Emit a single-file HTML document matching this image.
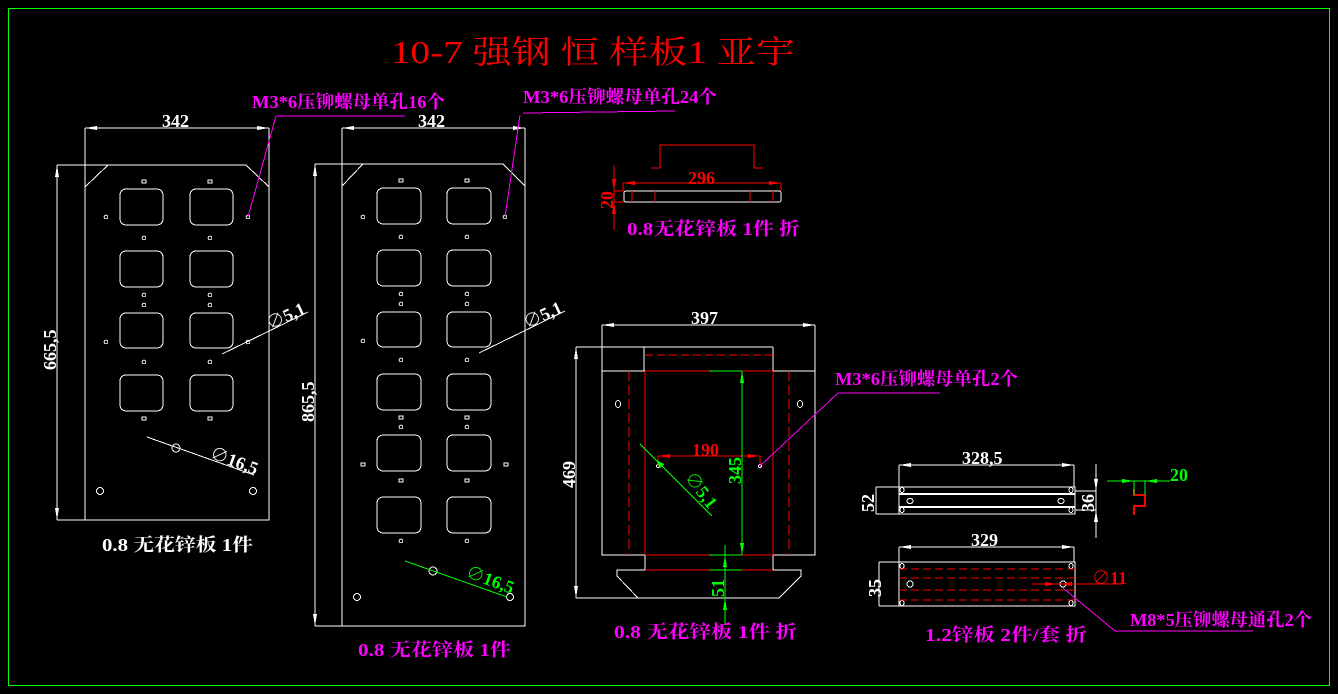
<!DOCTYPE html>
<html><head><meta charset="utf-8"><style>
html,body{margin:0;padding:0;background:#000;}
svg{display:block;}
text{font-family:"Liberation Serif","Noto Serif CJK SC",serif;}
</style></head><body>
<svg width="1338" height="694" viewBox="0 0 1338 694" xmlns="http://www.w3.org/2000/svg" shape-rendering="crispEdges">
<rect x="0" y="0" width="1338" height="694" fill="#000"/>
<rect x="8.5" y="8.5" width="1321" height="677" fill="none" stroke="#00ff00" stroke-width="1"/>
<text x="391" y="63" font-size="32" fill="#ff0000" textLength="404" lengthAdjust="spacingAndGlyphs">10-7 强钢 恒 样板1 亚宇</text>

<g stroke="#fff" fill="none" stroke-width="1">
<!-- Plate 1 -->
<path d="M108,165 L246,165 L269,187 L269,520 L85,520 L85,187 Z"/>
<line x1="57" y1="165" x2="108" y2="165"/>
<line x1="57" y1="520" x2="85" y2="520"/>
<line x1="57" y1="165" x2="57" y2="520"/>
<line x1="85" y1="128" x2="85" y2="187"/>
<line x1="269" y1="128" x2="269" y2="187"/>
<line x1="85" y1="128" x2="269" y2="128"/>
<rect x="120" y="189" width="43" height="36" rx="6"/><rect x="190" y="189" width="43" height="36" rx="6"/>
<rect x="120" y="251" width="43" height="36" rx="6"/><rect x="190" y="251" width="43" height="36" rx="6"/>
<rect x="120" y="313" width="43" height="35" rx="6"/><rect x="190" y="313" width="43" height="35" rx="6"/>
<rect x="120" y="375" width="43" height="36" rx="6"/><rect x="190" y="375" width="43" height="36" rx="6"/>
<rect x="142" y="180" width="4" height="3"/><rect x="208" y="180" width="4" height="3"/>
<rect x="142" y="417" width="4" height="3"/><rect x="208" y="417" width="4" height="3"/>
<circle cx="106" cy="217" r="1.8"/><circle cx="248" cy="217" r="1.8"/>
<circle cx="144" cy="238" r="1.8"/><circle cx="210" cy="238" r="1.8"/>
<circle cx="144" cy="295" r="1.8"/><circle cx="210" cy="295" r="1.8"/>
<circle cx="144" cy="305" r="1.8"/><circle cx="210" cy="305" r="1.8"/>
<circle cx="106" cy="342" r="1.8"/><circle cx="248" cy="342" r="1.8"/>
<circle cx="144" cy="362" r="1.8"/><circle cx="210" cy="362" r="1.8"/>
<circle cx="176" cy="448" r="4"/>
<circle cx="100" cy="491" r="3.5"/><circle cx="253" cy="491" r="3.5"/>
<line x1="147" y1="437" x2="254" y2="475"/>
<line x1="222" y1="354" x2="308" y2="312"/>

<!-- Plate 2 -->
<path d="M363,164 L503,164 L525,186 L525,626 L342,626 L342,186 Z"/>
<line x1="315" y1="164" x2="363" y2="164"/>
<line x1="315" y1="626" x2="342" y2="626"/>
<line x1="315" y1="164" x2="315" y2="626"/>
<line x1="342" y1="128" x2="342" y2="186"/>
<line x1="525" y1="128" x2="525" y2="186"/>
<line x1="342" y1="128" x2="525" y2="128"/>
<rect x="377" y="188" width="44" height="36" rx="6"/><rect x="447" y="188" width="44" height="36" rx="6"/>
<rect x="377" y="250" width="44" height="36" rx="6"/><rect x="447" y="250" width="44" height="36" rx="6"/>
<rect x="377" y="312" width="44" height="35" rx="6"/><rect x="447" y="312" width="44" height="35" rx="6"/>
<rect x="377" y="374" width="44" height="36" rx="6"/><rect x="447" y="374" width="44" height="36" rx="6"/>
<rect x="377" y="435" width="44" height="36" rx="6"/><rect x="447" y="435" width="44" height="36" rx="6"/>
<rect x="377" y="497" width="44" height="36" rx="6"/><rect x="447" y="497" width="44" height="36" rx="6"/>
<rect x="399" y="179" width="4" height="3"/><rect x="465" y="179" width="4" height="3"/>
<rect x="399" y="416" width="4" height="3"/><rect x="465" y="416" width="4" height="3"/>
<rect x="399" y="479" width="4" height="3"/><rect x="465" y="479" width="4" height="3"/>
<rect x="361" y="463" width="4" height="3"/><rect x="504" y="463" width="4" height="3"/>
<circle cx="363" cy="217" r="1.8"/><circle cx="505" cy="217" r="1.8"/>
<circle cx="401" cy="237" r="1.8"/><circle cx="467" cy="237" r="1.8"/>
<circle cx="401" cy="294" r="1.8"/><circle cx="467" cy="294" r="1.8"/>
<circle cx="401" cy="304" r="1.8"/><circle cx="467" cy="304" r="1.8"/>
<circle cx="363" cy="341" r="1.8"/><circle cx="401" cy="360" r="1.8"/><circle cx="467" cy="360" r="1.8"/>
<circle cx="401" cy="427" r="1.8"/><circle cx="467" cy="427" r="1.8"/>
<circle cx="401" cy="541" r="1.8"/><circle cx="467" cy="541" r="1.8"/>
<circle cx="357" cy="597" r="3.5"/><circle cx="510" cy="597" r="3.5"/>
<circle cx="433" cy="571" r="4"/>
<line x1="479" y1="353" x2="565" y2="311"/>

<!-- top small part -->
<rect x="624" y="191" width="157" height="11" rx="2"/>
<!-- middle part -->
<line x1="602" y1="325" x2="815" y2="325"/>
<line x1="602" y1="325" x2="602" y2="371"/>
<line x1="815" y1="325" x2="815" y2="371"/>
<line x1="576" y1="347" x2="773" y2="347"/>
<line x1="644" y1="347" x2="644" y2="371"/>
<line x1="773" y1="347" x2="773" y2="371"/>
<rect x="602" y="371" width="213" height="184"/>
<line x1="645" y1="555" x2="645" y2="570"/><line x1="773" y1="555" x2="773" y2="570"/>
<path d="M617,570 L801,570 L801,576 L779,598 L638,598 L617,576 Z"/>
<line x1="576" y1="598" x2="638" y2="598"/>
<line x1="576" y1="347" x2="576" y2="598"/>
<ellipse cx="618" cy="404" rx="2.5" ry="3.5"/><ellipse cx="800" cy="404" rx="2.5" ry="3.5"/>
<circle cx="658" cy="466" r="1.5"/><circle cx="760" cy="466" r="1.5"/>

<!-- right parts -->
<line x1="899" y1="465" x2="1074" y2="465"/>
<line x1="899" y1="465" x2="899" y2="487"/><line x1="1074" y1="465" x2="1074" y2="487"/>
<rect x="899" y="487" width="176" height="27"/>
<line x1="899" y1="494" x2="1075" y2="494" stroke-width="2"/>
<line x1="899" y1="507" x2="1075" y2="507" stroke-width="2"/>
<line x1="876" y1="487" x2="899" y2="487"/><line x1="876" y1="514" x2="899" y2="514"/>
<line x1="876" y1="487" x2="876" y2="514"/>
<line x1="1075" y1="491" x2="1096" y2="491"/><line x1="1075" y1="510" x2="1096" y2="510"/>
<line x1="1096" y1="464" x2="1096" y2="538"/>
<ellipse cx="902" cy="490" rx="2" ry="2.5"/><ellipse cx="1071" cy="490" rx="2" ry="2.5"/>
<ellipse cx="902" cy="510" rx="2" ry="2.5"/><ellipse cx="1071" cy="510" rx="2" ry="2.5"/>
<ellipse cx="910" cy="501" rx="3" ry="2.5"/><ellipse cx="1061" cy="501" rx="3" ry="2.5"/>
<line x1="899" y1="547" x2="1074" y2="547"/>
<line x1="899" y1="547" x2="899" y2="562"/><line x1="1074" y1="547" x2="1074" y2="562"/>
<rect x="899" y="562" width="176" height="44"/>
<line x1="879" y1="562" x2="899" y2="562"/><line x1="879" y1="606" x2="899" y2="606"/>
<line x1="879" y1="562" x2="879" y2="606"/>
<ellipse cx="902" cy="566" rx="2" ry="2.5"/><ellipse cx="1071" cy="566" rx="2" ry="2.5"/>
<ellipse cx="902" cy="603" rx="2" ry="2.5"/><ellipse cx="1071" cy="603" rx="2" ry="2.5"/>
<circle cx="910" cy="584" r="3"/><circle cx="1063" cy="584" r="3"/>
</g>

<g fill="#fff">
<polygon points="85,128 97,126 97,130"/><polygon points="269,128 257,126 257,130"/>
<polygon points="342,128 354,126 354,130"/><polygon points="525,128 513,126 513,130"/>
<polygon points="57,165 55,177 59,177"/><polygon points="57,520 55,508 59,508"/>
<polygon points="315,164 313,176 317,176"/><polygon points="315,626 313,614 317,614"/>
<polygon points="602,325 614,323 614,327"/><polygon points="815,325 803,323 803,327"/>
<polygon points="576,347 574,359 578,359"/><polygon points="576,598 574,586 578,586"/>
<polygon points="899,465 911,463 911,467"/><polygon points="1074,465 1062,463 1062,467"/>
<polygon points="899,547 911,545 911,549"/><polygon points="1074,547 1062,545 1062,549"/>
<polygon points="1096,491 1094,479 1098,479"/><polygon points="1096,510 1094,522 1098,522"/>
</g>

<g stroke="#ff0000" fill="none" stroke-width="1">
<path d="M651,168 L660,168 L660,145 L754,145 L754,168 L763,168"/>
<line x1="632" y1="191" x2="632" y2="202"/><line x1="655" y1="191" x2="655" y2="202"/>
<line x1="750" y1="191" x2="750" y2="202"/><line x1="773" y1="191" x2="773" y2="202"/>
<line x1="623" y1="183" x2="781" y2="183"/>
<line x1="623" y1="183" x2="623" y2="191"/><line x1="781" y1="183" x2="781" y2="191"/>
<line x1="614" y1="165" x2="614" y2="230"/>
<line x1="614" y1="191" x2="624" y2="191"/><line x1="614" y1="202" x2="624" y2="202"/>
<line x1="645" y1="355" x2="773" y2="355" stroke-dasharray="8,4"/>
<line x1="629" y1="371" x2="629" y2="555" stroke-dasharray="10,4"/>
<line x1="789" y1="371" x2="789" y2="555" stroke-dasharray="10,4"/>
<line x1="645" y1="371" x2="645" y2="555"/><line x1="773" y1="371" x2="773" y2="555"/>
<line x1="645" y1="371" x2="709" y2="371"/><line x1="742" y1="371" x2="773" y2="371"/>
<line x1="645" y1="555" x2="709" y2="555"/><line x1="742" y1="555" x2="773" y2="555"/>
<line x1="645" y1="570" x2="709" y2="570"/><line x1="742" y1="570" x2="773" y2="570"/>
<line x1="658" y1="456" x2="760" y2="456"/>
<line x1="658" y1="456" x2="658" y2="466"/><line x1="760" y1="456" x2="760" y2="466"/>
<line x1="899" y1="569" x2="1075" y2="569" stroke-dasharray="8,4"/>
<line x1="899" y1="578" x2="1075" y2="578" stroke-dasharray="8,4"/>
<line x1="899" y1="590" x2="1075" y2="590" stroke-dasharray="8,4"/>
<line x1="899" y1="600" x2="1075" y2="600" stroke-dasharray="8,4"/>
<line x1="1032" y1="584" x2="1122" y2="584"/>
<path d="M1134,489 L1134,495 L1145,495 L1145,506 L1134,506 L1134,515" stroke-width="2"/>
</g>
<g fill="#ff0000">
<polygon points="623,183 635,181 635,185"/><polygon points="781,183 769,181 769,185"/>
<polygon points="614,191 612,179 616,179"/><polygon points="614,202 612,214 616,214"/>
<polygon points="658,456 670,454 670,458"/><polygon points="760,456 748,454 748,458"/>
<polygon points="1060,584 1072,582 1072,586"/><polygon points="1057,584 1045,582 1045,586"/>
</g>

<g stroke="#00ff00" fill="none" stroke-width="1">
<line x1="405" y1="561" x2="507" y2="597"/>
<line x1="742" y1="371" x2="742" y2="555"/>
<line x1="709" y1="371" x2="742" y2="371"/>
<line x1="709" y1="555" x2="742" y2="555"/>
<line x1="709" y1="570" x2="742" y2="570"/>
<line x1="640" y1="444" x2="712" y2="516"/>
<line x1="725" y1="545" x2="725" y2="625"/>
<line x1="1107" y1="481" x2="1170" y2="481"/>
<line x1="1134" y1="481" x2="1134" y2="495"/><line x1="1145" y1="481" x2="1145" y2="495"/>
</g>
<g fill="#00ff00">
<polygon points="742,371 740,383 744,383"/><polygon points="742,555 740,543 744,543"/>
<polygon points="725,555 723,567 727,567"/><polygon points="725,598 723,610 727,610"/>
<polygon points="1134,481 1122,479 1122,483"/><polygon points="1145,481 1157,479 1157,483"/>
<polygon points="656,460 664,464 660,468"/>
</g>

<g stroke="#ff00ff" fill="none" stroke-width="1">
<line x1="276" y1="116" x2="405" y2="116"/>
<line x1="276" y1="116" x2="248" y2="217"/>
<line x1="523" y1="113" x2="675" y2="111"/>
<line x1="520" y1="115" x2="505" y2="217"/>
<line x1="838" y1="393" x2="940" y2="393"/>
<line x1="838" y1="393" x2="760" y2="466"/>
<polyline points="1063,588 1115,631 1253,631"/>
</g>

<g fill="#fff" font-size="18" font-weight="bold">
<text x="162" y="127">342</text>
<text x="418" y="127">342</text>
<text x="691" y="324">397</text>
<text x="962" y="464">328,5</text>
<text x="971" y="546">329</text>
<text transform="translate(56,370) rotate(-90)">665,5</text>
<text transform="translate(314,422) rotate(-90)">865,5</text>
<text transform="translate(575,488) rotate(-90)">469</text>
<text transform="translate(874,512) rotate(-90)">52</text>
<text transform="translate(1094,512) rotate(-90)">36</text>
<text transform="translate(881,597) rotate(-90)">35</text>
<text transform="translate(209,458) rotate(20)">∅16,5</text>
<text transform="translate(270,330) rotate(-25)">∅5,1</text>
<text transform="translate(527,329) rotate(-25)">∅5,1</text>
<text x="102" y="551" textLength="151" lengthAdjust="spacingAndGlyphs">0.8 无花锌板 1件</text>
</g>
<g fill="#00ff00" font-size="18" font-weight="bold">
<text transform="translate(465,577) rotate(20)">∅16,5</text>
<text transform="translate(741,484) rotate(-90)">345</text>
<text transform="translate(724,597) rotate(-90)">51</text>
<text transform="translate(684,478) rotate(52)">∅5,1</text>
<text x="1170" y="481">20</text>
</g>
<g fill="#ff0000" font-size="18" font-weight="bold">
<text x="688" y="184">296</text>
<text x="692" y="456">190</text>
<text x="1092" y="584">∅11</text>
<text transform="translate(613,209) rotate(-90)">20</text>
</g>
<g fill="#ff00ff" font-size="18" font-weight="bold">
<text x="252" y="108" textLength="193" lengthAdjust="spacingAndGlyphs">M3*6压铆螺母单孔16个</text>
<text x="523" y="103" textLength="194" lengthAdjust="spacingAndGlyphs">M3*6压铆螺母单孔24个</text>
<text x="627" y="235" textLength="173" lengthAdjust="spacingAndGlyphs">0.8无花锌板 1件 折</text>
<text x="835" y="385" textLength="183" lengthAdjust="spacingAndGlyphs">M3*6压铆螺母单孔2个</text>
<text x="358" y="656" textLength="153" lengthAdjust="spacingAndGlyphs">0.8 无花锌板 1件</text>
<text x="614" y="638" textLength="183" lengthAdjust="spacingAndGlyphs">0.8 无花锌板 1件 折</text>
<text x="1130" y="626" textLength="182" lengthAdjust="spacingAndGlyphs">M8*5压铆螺母通孔2个</text>
<text x="925" y="641" textLength="162" lengthAdjust="spacingAndGlyphs">1.2锌板 2件/套 折</text>
</g>
</svg>
</body></html>
